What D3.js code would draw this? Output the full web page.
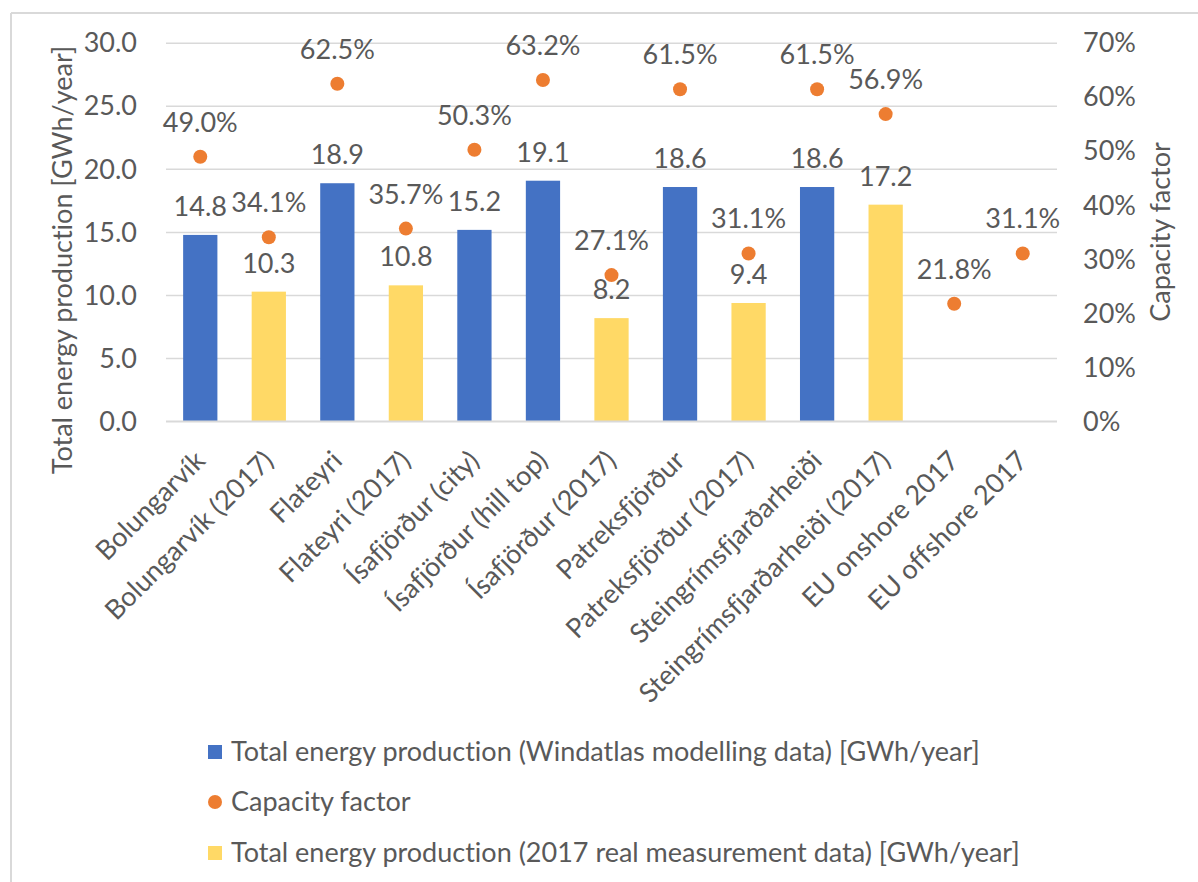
<!DOCTYPE html>
<html><head><meta charset="utf-8">
<script src="https://cdn.jsdelivr.net/npm/d3@7"></script>
<style>body{margin:0;background:#fff}svg{display:block}text{font-family:Lato,"Open Sans",sans-serif;fill:#595959;font-variant-ligatures:none}</style>
</head><body>
<script>
const categories = ["Bolungarvík","Bolungarvík (2017)","Flateyri","Flateyri (2017)","Ísafjörður (city)","Ísafjörður (hill top)","Ísafjörður (2017)","Patreksfjörður","Patreksfjörður (2017)","Steingrímsfjarðarheiði","Steingrímsfjarðarheiði (2017)","EU onshore 2017","EU offshore 2017"];
const windatlas = [14.8,null,18.9,null,15.2,19.1,null,18.6,null,18.6,null,null,null];
const measured2017 = [null,10.3,null,10.8,null,null,8.2,null,9.4,null,17.2,null,null];
const capacityFactor = [0.490,0.341,0.625,0.357,0.503,0.632,0.271,0.615,0.311,0.615,0.569,0.218,0.311];
const leftTicks = [0,5,10,15,20,25,30];
const rightTicks = [0,0.1,0.2,0.3,0.4,0.5,0.6,0.7];
const seriesNames = ["Total energy production (Windatlas modelling data) [GWh/year]","Capacity factor","Total energy production (2017 real measurement data) [GWh/year]"];
const colors = {blue:"#4472C4", orange:"#ED7D31", yellow:"#FFD966", grid:"#d9d9d9", text:"#595959"};

const W=1198,H=882;
const svg=d3.select("body").append("svg").attr("width",W).attr("height",H);
const FS=27;
// frame
svg.append("line").attr("x1",11).attr("x2",W).attr("y1",13).attr("y2",13).attr("stroke",colors.grid).attr("stroke-width",2);
svg.append("line").attr("x1",11).attr("x2",11).attr("y1",13).attr("y2",H).attr("stroke",colors.grid).attr("stroke-width",2);

const x=d3.scaleBand().domain(categories).range([166,1057]).paddingInner(0.5).paddingOuter(0.25);
const yL=d3.scaleLinear().domain([0,30]).range([421.5,43.3]);
const yR=d3.scaleLinear().domain([0,0.7]).range([421.5,43.3]);

// gridlines
svg.append("g").selectAll("line").data(leftTicks.filter(d=>d>0)).join("line")
 .attr("x1",166).attr("x2",1057).attr("y1",d=>yL(d)).attr("y2",d=>yL(d))
 .attr("stroke",colors.grid).attr("stroke-width",1.5);

// left axis
const la=svg.append("g").attr("transform","translate(137,0)").call(d3.axisLeft(yL).tickValues(leftTicks).tickFormat(d3.format(".1f")).tickSize(0).tickPadding(0));
la.select(".domain").remove();
la.selectAll("text").attr("font-size",FS).attr("fill",colors.text).style("font-family","Lato");
// right axis
const ra=svg.append("g").attr("transform","translate(1083,0)").call(d3.axisRight(yR).tickValues(rightTicks).tickFormat(d3.format(".0%")).tickSize(0).tickPadding(0));
ra.select(".domain").remove();
ra.selectAll("text").attr("font-size",FS).attr("fill",colors.text).style("font-family","Lato");

// bars
const bw=x.bandwidth();
function bars(vals,color){
  const data=categories.map((c,i)=>({c,v:vals[i]})).filter(d=>d.v!=null);
  svg.append("g").selectAll("rect").data(data).join("rect")
   .attr("x",d=>x(d.c)).attr("width",bw).attr("y",d=>yL(d.v)).attr("height",d=>yL(0)-yL(d.v)).attr("fill",color);
  svg.append("g").selectAll("text").data(data).join("text")
   .attr("x",d=>x(d.c)+bw/2).attr("y",d=>yL(d.v)-19).attr("text-anchor","middle").attr("font-size",FS)
   .text(d=>d3.format(".1f")(d.v));
}
bars(windatlas,colors.blue);
bars(measured2017,colors.yellow);

// axis baseline
svg.append("line").attr("x1",166).attr("x2",1057).attr("y1",yL(0)).attr("y2",yL(0)).attr("stroke",colors.grid).attr("stroke-width",2);

// capacity factor dots
const cf=categories.map((c,i)=>({c,v:capacityFactor[i]}));
svg.append("g").selectAll("circle").data(cf).join("circle")
 .attr("cx",d=>x(d.c)+bw/2).attr("cy",d=>yR(d.v)).attr("r",7).attr("fill",colors.orange);
svg.append("g").selectAll("text").data(cf).join("text")
 .attr("x",d=>x(d.c)+bw/2).attr("y",d=>yR(d.v)-25).attr("text-anchor","middle").attr("font-size",FS)
 .text(d=>d3.format(".1%")(d.v));

// category labels
svg.append("g").selectAll("text").data(categories).join("text")
 .attr("text-anchor","end").attr("font-size",FS).attr("dy","0.7em")
 .attr("transform",d=>`translate(${x(d)+bw/2-7},449) rotate(-45)`).text(d=>d);

// axis titles
svg.append("text").attr("text-anchor","middle").attr("font-size",FS)
 .attr("transform","translate(72,260) rotate(-90)").text("Total energy production [GWh/year]");
svg.append("text").attr("text-anchor","middle").attr("font-size",FS)
 .attr("transform","translate(1170,232) rotate(-90)").text("Capacity factor");

// legend
const lg=svg.append("g");
const rowsY=[752,802,853];
seriesNames.forEach((n,i)=>{
  if(i===1) lg.append("circle").attr("cx",215).attr("cy",rowsY[i]).attr("r",7).attr("fill",colors.orange);
  else lg.append("rect").attr("x",208).attr("y",rowsY[i]-7).attr("width",14).attr("height",14).attr("fill",i===0?colors.blue:colors.yellow);
  lg.append("text").attr("x",231).attr("y",rowsY[i]).attr("dy","0.35em").attr("font-size",FS).text(n);
});
</script>
</body></html>
